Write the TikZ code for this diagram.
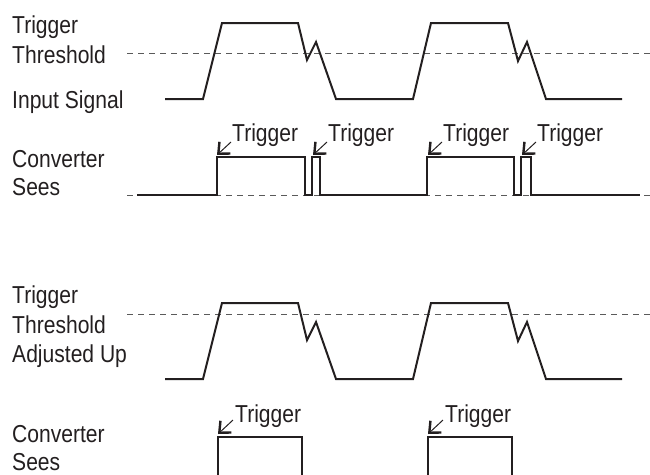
\documentclass[tikz,border=0pt]{standalone}
\usepackage{fontspec}
\setmainfont{Liberation Sans}[FakeStretch=0.86]
\usetikzlibrary{arrows.meta}
\definecolor{ink}{HTML}{231F20}
\definecolor{dash}{HTML}{5A5A5A}
\begin{document}
\begin{tikzpicture}[x=1pt,y=-1pt,
  lbl/.style={anchor=base west,inner sep=0pt,font=\fontsize{24.5}{30}\selectfont,text=ink},
  sig/.style={draw=ink,line width=2pt,line join=miter},
  thr/.style={draw=dash,line width=1pt,dash pattern=on 6pt off 5pt},
  trg/.style={draw=ink,line width=1pt,-{Straight Barb[length=9pt,width=16pt,line width=2.4pt]}}]
\useasboundingbox (0,0) rectangle (650,474);
% ---------- top section ----------
\node[lbl] (l1a) at (12,33) {Trigger};
\node[lbl] (l1b) at (12,63) {Threshold};
\node[lbl] (l1c) at (12,108) {Input Signal};
\node[lbl] (l2a) at (12,167) {Converter};
\node[lbl] (l2b) at (12,195) {Sees};
\draw[thr] (127,53) -- (650,53);
\draw[sig] (165,99) -- (203,99) -- (222,23) -- (298,23) -- (307,60) -- (316,42) -- (336,99)
  -- (413,99) -- (431,23) -- (508,23) -- (518,61) -- (527,42) -- (546,99) -- (622,99);
\draw[thr] (127,195) -- (650,195);
\draw[sig] (137,195) -- (217,195) -- (217,157) -- (305,157) -- (305,195) -- (312,195)
  -- (312,157) -- (320,157) -- (320,195) -- (427,195) -- (427,157) -- (514,157) -- (514,195)
  -- (521,195) -- (521,157) -- (531,157) -- (531,195) -- (640,195);
\foreach \x/\n in {217/a,313/b,428/c,522/d}{
  \node[lbl] (t\n) at (\x+15,141) {Trigger};
  \coordinate (s\n) at (\x+14,142);
  \coordinate (e\n) at (\x,155);
  \draw[trg] (s\n) -- (e\n);
}
% ---------- bottom section ----------
\node[lbl] (l3a) at (12,303) {Trigger};
\node[lbl] (l3b) at (12,333) {Threshold};
\node[lbl] (l3c) at (12,362) {Adjusted Up};
\node[lbl] (l4a) at (12,442) {Converter};
\node[lbl] (l4b) at (12,470) {Sees};
\draw[thr] (127,314) -- (650,314);
\draw[sig] (165,379) -- (203,379) -- (222,303) -- (298,303) -- (307,340) -- (316,322) -- (336,379)
  -- (413,379) -- (431,303) -- (508,303) -- (518,341) -- (527,322) -- (546,379) -- (622,379);
\draw[sig] (218,476) -- (218,437) -- (302,437) -- (302,476);
\draw[sig] (428,476) -- (428,437) -- (512,437) -- (512,476);
\foreach \x/\n in {218/e,428/f}{
  \node[lbl] (t\n) at (\x+17,422) {Trigger};
  \coordinate (s\n) at (\x+15,420);
  \coordinate (e\n) at (\x,434);
  \draw[trg] (s\n) -- (e\n);
}
\end{tikzpicture}
\end{document}
